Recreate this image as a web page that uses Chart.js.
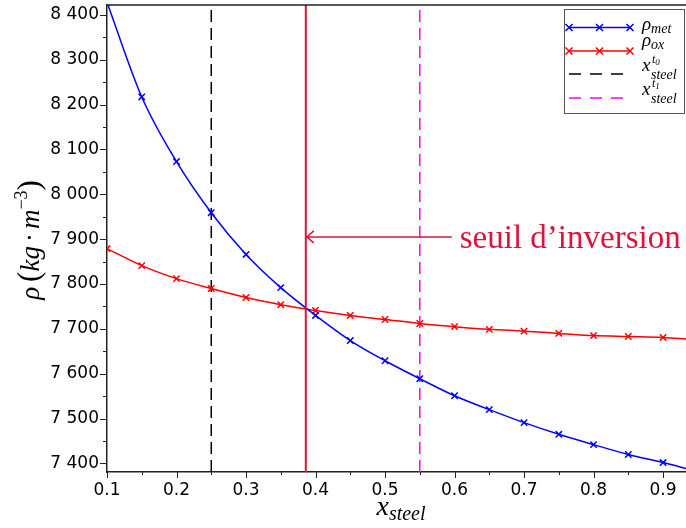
<!DOCTYPE html>
<html>
<head>
<meta charset="utf-8">
<script src="https://cdn.jsdelivr.net/npm/chart.js@4.4.1/dist/chart.umd.min.js"></script>
<style>
  html, body { margin: 0; padding: 0; background: #fff; }
</style>
</head>
<body>
<canvas id="chart" width="686" height="528"></canvas>
<script>
// steel fraction and densities
const xSteel = [0.1, 0.15, 0.2, 0.25, 0.3, 0.35, 0.4, 0.45, 0.5, 0.55, 0.6, 0.65, 0.7, 0.75, 0.8, 0.85, 0.9, 0.935];
const rhoMet = [8428, 8217, 8073, 7959, 7866, 7792, 7730, 7674, 7629, 7589, 7551, 7520, 7491, 7465, 7442, 7420, 7402, 7388];
const rhoOx  = [7879, 7841, 7812, 7790, 7770, 7754, 7741, 7730, 7721, 7712, 7705, 7699, 7695, 7690, 7685, 7683, 7681, 7677];

const xT0 = 0.25;
const xT1 = 0.55;
const xInversion = 0.386;
const arrowY = 7905;
const arrowTailX = 0.596;

const xTicks = [0.1, 0.2, 0.3, 0.4, 0.5, 0.6, 0.7, 0.8, 0.9];
const xMinorTicks = [0.15, 0.25, 0.35, 0.45, 0.55, 0.65, 0.75, 0.85];
const yTicks = [7400, 7500, 7600, 7700, 7800, 7900, 8000, 8100, 8200, 8300, 8400];
const yMinorTicks = [7450, 7550, 7650, 7750, 7850, 7950, 8050, 8150, 8250, 8350];

const xMin = 0.1, xMax = 0.933;
const yMin = 7381, yMax = 8422;

const BLUE = '#0000ff';
const RED = '#ff0000';
const CRIMSON = '#dc143c';
const MAGENTA = '#ff00ff';
const SERIF = '"Liberation Serif", "DejaVu Serif", serif';

const toPoints = (xs, ys) => xs.map((x, i) => ({ x: x, y: ys[i] }));
const vline = x => [{ x: x, y: yMin }, { x: x, y: yMax }];
const lastIdx = xSteel.length - 1;

function richWidth(ctx, parts) {
    let w = 0;
    for (const p of parts) {
        ctx.font = (p.i ? 'italic ' : '') + p.s + 'px ' + SERIF;
        w += ctx.measureText(p.t).width + (p.gap || 0);
    }
    return w;
}

function drawRich(ctx, x, y, parts) {
    let cx = x;
    ctx.textBaseline = 'alphabetic';
    ctx.textAlign = 'left';
    for (const p of parts) {
        ctx.font = (p.i ? 'italic ' : '') + p.s + 'px ' + SERIF;
        ctx.fillText(p.t, cx, y + (p.dy || 0));
        cx += ctx.measureText(p.t).width + (p.gap || 0);
    }
}

function crossMark(ctx, x, y, r) {
    ctx.beginPath();
    ctx.moveTo(x - r, y - r); ctx.lineTo(x + r, y + r);
    ctx.moveTo(x - r, y + r); ctx.lineTo(x + r, y - r);
    ctx.stroke();
}

const decor = {
    id: 'decor',
    afterDraw(chart) {
        const ctx = chart.ctx;
        const xs = chart.scales.x, ys = chart.scales.y;
        const a = chart.chartArea;
        ctx.save();

        // frame top
        ctx.strokeStyle = '#222';
        ctx.lineWidth = 1.5;
        ctx.beginPath();
        ctx.moveTo(a.left, a.top); ctx.lineTo(a.right, a.top);
        ctx.stroke();

        // tick marks (outside)
        ctx.lineWidth = 1;
        ctx.strokeStyle = '#222';
        ctx.beginPath();
        yTicks.forEach(v => { const p = Math.round(ys.getPixelForValue(v)) + 0.5; ctx.moveTo(a.left - 7, p); ctx.lineTo(a.left, p); });
        yMinorTicks.forEach(v => { const p = Math.round(ys.getPixelForValue(v)) + 0.5; ctx.moveTo(a.left - 4, p); ctx.lineTo(a.left, p); });
        xTicks.forEach(v => { const p = Math.round(xs.getPixelForValue(v)) + 0.5; ctx.moveTo(p, a.bottom); ctx.lineTo(p, a.bottom + 6); });
        xMinorTicks.forEach(v => { const p = Math.round(xs.getPixelForValue(v)) + 0.5; ctx.moveTo(p, a.bottom); ctx.lineTo(p, a.bottom + 3); });
        ctx.stroke();

        // arrow + annotation
        const ay = ys.getPixelForValue(arrowY);
        const ax0 = xs.getPixelForValue(xInversion);
        const ax1 = xs.getPixelForValue(arrowTailX);
        ctx.strokeStyle = CRIMSON;
        ctx.lineWidth = 1.5;
        ctx.beginPath();
        ctx.moveTo(ax1, ay); ctx.lineTo(ax0 + 1, ay);
        ctx.moveTo(ax0 + 8, ay - 6); ctx.lineTo(ax0 + 1, ay); ctx.lineTo(ax0 + 8, ay + 6);
        ctx.stroke();
        ctx.fillStyle = CRIMSON;
        ctx.font = '33px ' + SERIF;
        ctx.textAlign = 'left';
        ctx.textBaseline = 'alphabetic';
        ctx.fillText('seuil d\u2019inversion', ax1 + 8, ay + 11);

        // legend
        const lx = 564, ly = 9, lw = 120, lh = 104;
        ctx.fillStyle = '#fff';
        ctx.fillRect(lx, ly, lw, lh);
        ctx.strokeStyle = '#555';
        ctx.lineWidth = 1;
        ctx.strokeRect(lx + 0.5, ly + 0.5, lw, lh);
        const rows = [27.5, 51, 74, 98];
        const sx0 = 569, sx1 = 630;
        // rho_met
        ctx.strokeStyle = BLUE; ctx.lineWidth = 1.5;
        ctx.beginPath(); ctx.moveTo(sx0, rows[0]); ctx.lineTo(sx1, rows[0]); ctx.stroke();
        [sx0, (sx0 + sx1) / 2, sx1].forEach(px => crossMark(ctx, px, rows[0], 3.5));
        // rho_ox
        ctx.strokeStyle = RED;
        ctx.beginPath(); ctx.moveTo(sx0, rows[1]); ctx.lineTo(sx1, rows[1]); ctx.stroke();
        [sx0, (sx0 + sx1) / 2, sx1].forEach(px => crossMark(ctx, px, rows[1], 3.5));
        // x_steel^t0 / t1
        ctx.setLineDash([12, 9]);
        ctx.strokeStyle = '#000';
        ctx.beginPath(); ctx.moveTo(sx0, rows[2]); ctx.lineTo(sx1, rows[2]); ctx.stroke();
        ctx.strokeStyle = MAGENTA;
        ctx.beginPath(); ctx.moveTo(sx0, rows[3]); ctx.lineTo(sx1, rows[3]); ctx.stroke();
        ctx.setLineDash([]);

        ctx.fillStyle = '#000';
        drawRich(ctx, 642, rows[0] + 2, [{ t: '\u03c1', s: 19, i: true }, { t: 'met', s: 14, i: true, dy: 3 }]);
        drawRich(ctx, 642, rows[1] - 5, [{ t: '\u03c1', s: 19, i: true }, { t: 'ox', s: 14, i: true, dy: 3 }]);
        [['t', '0', rows[2]], ['t', '1', rows[3]]].forEach(r => {
            const y = r[2] - 3;
            drawRich(ctx, 642, y, [{ t: 'x', s: 19, i: true }]);
            drawRich(ctx, 652, y - 8, [{ t: r[0], s: 12, i: true }, { t: r[1], s: 9, i: true, dy: 2 }]);
            drawRich(ctx, 651, y + 8, [{ t: 'steel', s: 14, i: true }]);
        });

        // x axis title
        ctx.fillStyle = '#000';
        const xParts = [{ t: 'x', s: 28, i: true }, { t: 'steel', s: 20, i: true, dy: 5 }];
        const xw = richWidth(ctx, xParts);
        drawRich(ctx, 401 - xw / 2, 515, xParts);

        // y axis title, rotated
        const yParts = [
            { t: '\u03c1', s: 27, i: true, gap: 5 },
            { t: '(', s: 31 },
            { t: 'kg', s: 27, i: true, gap: 4 },
            { t: '\u00b7', s: 27, gap: 4 },
            { t: 'm', s: 27, i: true },
            { t: '\u22123', s: 18, dy: -12 },
            { t: ')', s: 31 }
        ];
        const yw = richWidth(ctx, yParts);
        ctx.translate(39, 240);
        ctx.rotate(-Math.PI / 2);
        drawRich(ctx, -yw / 2, 0, yParts);

        ctx.restore();
    }
};

new Chart(document.getElementById('chart'), {
    type: 'line',
    data: {
        datasets: [
            {
                label: 'rho_met',
                data: toPoints(xSteel, rhoMet),
                borderColor: BLUE,
                backgroundColor: BLUE,
                borderWidth: 1.5,
                pointStyle: 'crossRot',
                pointRadius: c => c.dataIndex === lastIdx ? 0 : 4.5,
                pointBorderWidth: 1.5,
                cubicInterpolationMode: 'monotone',
                clip: 0,
                order: 1
            },
            {
                label: 'rho_ox',
                data: toPoints(xSteel, rhoOx),
                borderColor: RED,
                backgroundColor: RED,
                borderWidth: 1.5,
                pointStyle: 'crossRot',
                pointRadius: c => c.dataIndex === lastIdx ? 0 : 4.5,
                pointBorderWidth: 1.5,
                cubicInterpolationMode: 'monotone',
                clip: 0,
                order: 2
            },
            {
                label: 'x_steel^t0',
                data: vline(xT0),
                borderColor: '#000',
                borderWidth: 1.5,
                borderDash: [12, 6],
                pointRadius: 0,
                clip: 0,
                order: 3
            },
            {
                label: 'x_steel^t1',
                data: vline(xT1),
                borderColor: MAGENTA,
                borderWidth: 1.5,
                borderDash: [12, 6],
                pointRadius: 0,
                clip: 0,
                order: 3
            },
            {
                label: 'inversion',
                data: vline(xInversion),
                borderColor: CRIMSON,
                borderWidth: 2,
                pointRadius: 0,
                clip: 0,
                order: 0
            }
        ]
    },
    options: {
        responsive: false,
        animation: false,
        devicePixelRatio: 1,
        layout: { autoPadding: false, padding: { top: 5, right: 0, left: 0, bottom: 0 } },
        plugins: {
            legend: { display: false },
            tooltip: { enabled: false }
        },
        scales: {
            x: {
                type: 'linear',
                min: xMin,
                max: xMax,
                afterBuildTicks: s => { s.ticks = xTicks.map(v => ({ value: v })); },
                afterFit: s => { s.height = 56; s.paddingLeft = 0; s.paddingRight = 0; },
                grid: { display: false, drawTicks: false },
                border: { display: true, color: '#222', width: 1.5 },
                ticks: {
                    color: '#000',
                    padding: 8,
                    maxRotation: 0,
                    autoSkip: false,
                    font: { family: '"DejaVu Sans"', size: 17 },
                    callback: v => v.toFixed(1)
                }
            },
            y: {
                type: 'linear',
                min: yMin,
                max: yMax,
                afterBuildTicks: s => { s.ticks = yTicks.map(v => ({ value: v })); },
                afterFit: s => { s.width = 107; s.paddingTop = 0; s.paddingBottom = 0; },
                grid: { display: false, drawTicks: false },
                border: { display: true, color: '#222', width: 1.5 },
                ticks: {
                    color: '#000',
                    padding: 8,
                    autoSkip: false,
                    font: { family: '"DejaVu Sans"', size: 17 },
                    callback: v => String(v).replace(/(\d)(\d{3})$/, '$1 $2')
                }
            }
        }
    },
    plugins: [decor]
});
</script>
</body>
</html>
